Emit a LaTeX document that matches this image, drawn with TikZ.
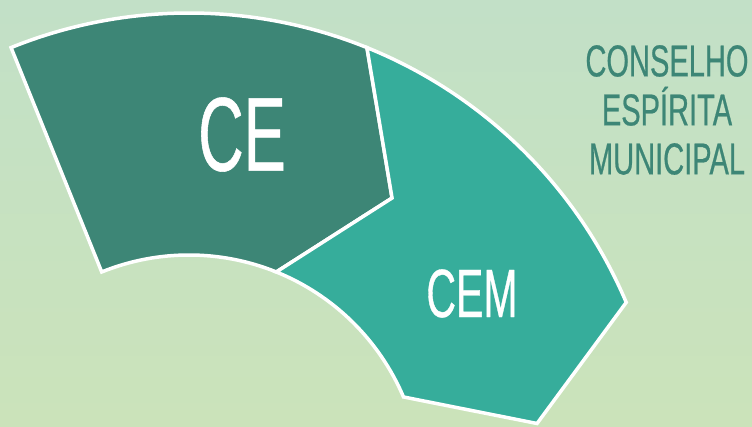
\documentclass[tikz,border=0pt]{standalone}
\usepackage{fontspec}
\usetikzlibrary{calc}
\newfontfamily\narrowfont[FakeStretch=0.6,FakeBold=0.5]{Liberation Sans}
\newfontfamily\councilfont[FakeStretch=0.65,FakeBold=0.5]{Liberation Sans}
\definecolor{bgtop}{HTML}{C2E0C7}
\definecolor{bgbottom}{HTML}{CBE3BA}
\definecolor{cedark}{HTML}{3D8676}
\definecolor{cemlight}{HTML}{36AD9B}
\begin{document}
\begin{tikzpicture}
[x=1pt,y=1pt,
  segdecorate/.style={draw=white,line width=3.5pt,line join=miter},%
  labeldecorate/.style={text=white,inner sep=0pt,font=\narrowfont}]
%% background
\useasboundingbox (0,0) rectangle (752,426);
\clip (0,0) rectangle (752,426);
\shade[top color=bgtop,bottom color=bgbottom] (0,0) rectangle (752,426);
%% centre of the arcs
\coordinate (c) at (189,-62);
%% segments
\path[segdecorate,fill=cedark]
  ($(c)+(112:233)$) -- ($(c)+(112:475)$)
  arc[start angle=112,end angle=68,radius=475]
  -- ($(c)+(55:354)$) -- ($(c)+(68:233)$)
  arc[start angle=68,end angle=112,radius=233] -- cycle;
\path[segdecorate,fill=cemlight]
  ($(c)+(68:475)$)
  arc[start angle=68,end angle=23,radius=475]
  -- ($(c)+(10.5:354)$) -- ($(c)+(23:233)$)
  arc[start angle=23,end angle=68,radius=233]
  -- ($(c)+(55:354)$) -- cycle;
%% labels
\node (ce) at (242,291.5) [labeldecorate,font=\narrowfont\fontsize{105}{105}\selectfont] {CE};
\node (cem) at (472,132.5) [labeldecorate,font=\narrowfont\fontsize{68.4}{68.4}\selectfont] {CEM};
\node (council) at (667,316) [text=cedark,inner sep=0pt,align=center,
  font=\councilfont\fontsize{44.7}{49}\selectfont] {CONSELHO\\ESPÍRITA\\MUNICIPAL};
\end{tikzpicture}
\end{document}
